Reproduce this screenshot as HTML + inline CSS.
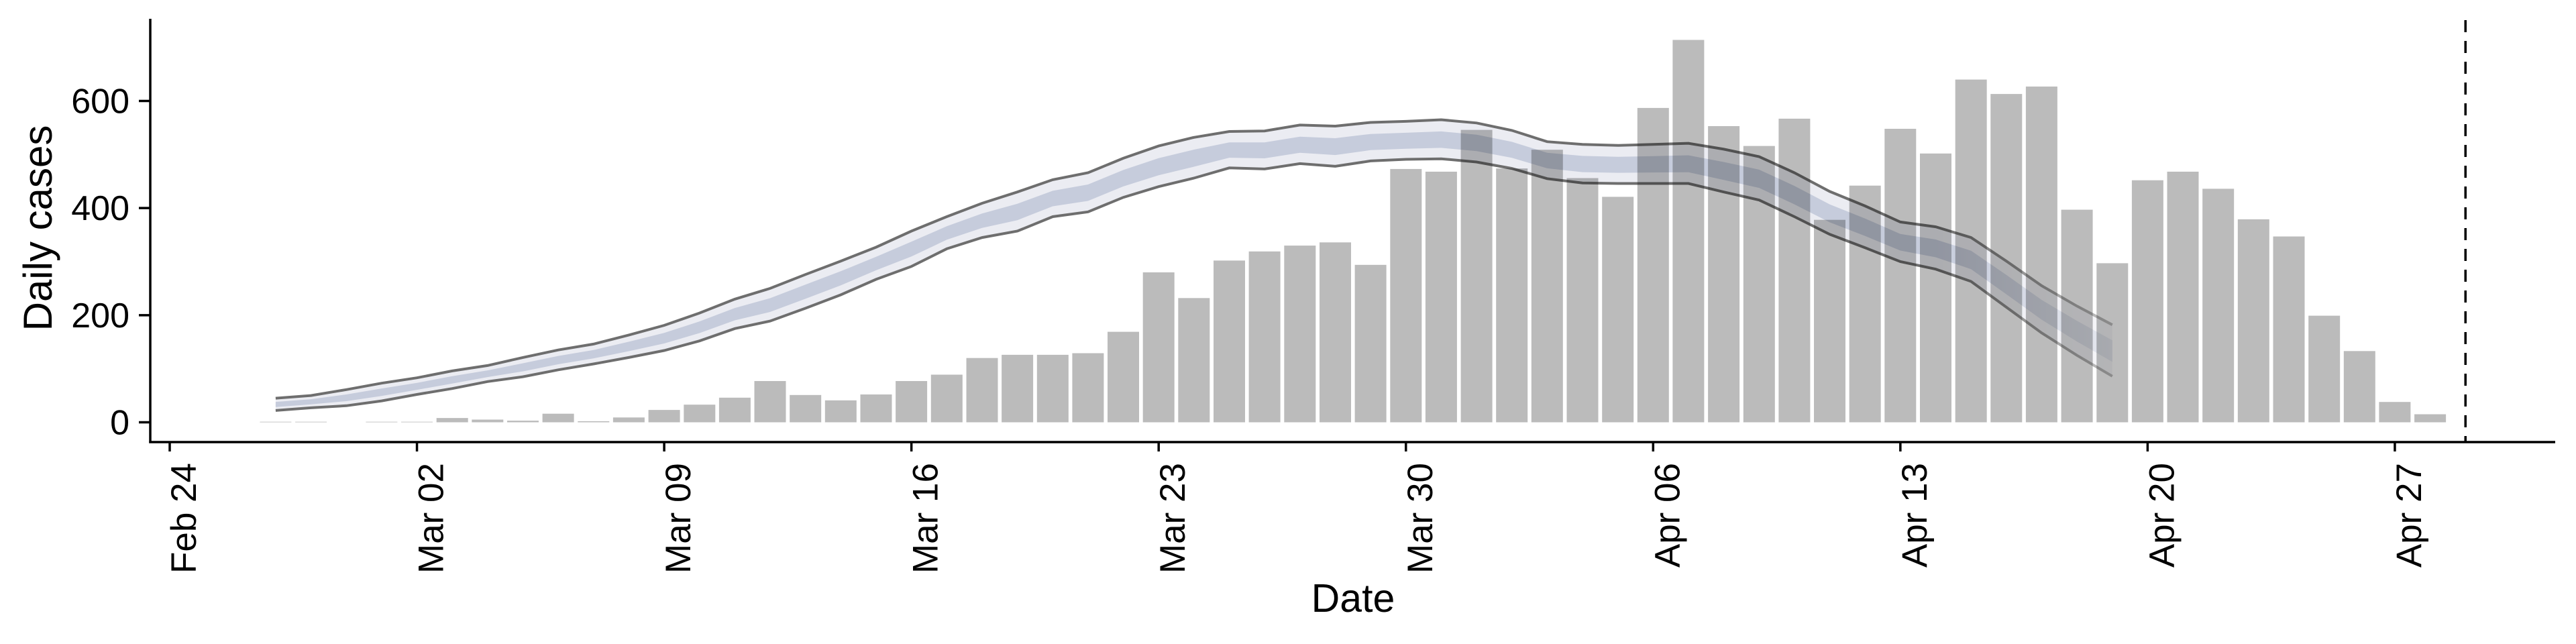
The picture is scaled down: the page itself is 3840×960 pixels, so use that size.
<!DOCTYPE html>
<html><head><meta charset="utf-8"><style>
html,body{margin:0;padding:0;background:#fff;}
svg{display:block;}
text{font-family:"Liberation Sans",Arial,sans-serif;fill:#000;}
</style></head><body>
<svg id="chart" width="3840" height="960" viewBox="0 0 3840 960" xmlns="http://www.w3.org/2000/svg">
<defs>
<linearGradient id="fadeGrad" gradientUnits="userSpaceOnUse" x1="2885" y1="0" x2="3150" y2="0">
<stop offset="0" stop-color="#fff" stop-opacity="1"/>
<stop offset="1" stop-color="#fff" stop-opacity="0.45"/>
</linearGradient>
<mask id="fadeMask" maskUnits="userSpaceOnUse" x="0" y="0" width="3840" height="960">
<rect x="0" y="0" width="3840" height="960" fill="url(#fadeGrad)"/>
</mask>
</defs>
<g id="bars"></g>
<g id="ribbon" style="mix-blend-mode:multiply" mask="url(#fadeMask)"></g>
<g id="axes"></g>
</svg>
<script>
// Day index 0 = Feb 24 (2020)
const barStartDay = 3;
const caseValues = [1,1,0,1,1,8,5,3,16,2,9,23,33,46,77,51,41,52,77,89,120,126,126,129,169,280,232,302,319,330,336,294,473,468,546,474,509,456,421,587,714,553,516,567,378,442,548,502,640,613,627,397,297,452,468,436,379,347,199,133,38,15];
const ribbonStartDay = 3;
const ribbonUpper = [45,50,61,73,83,96,106,121,135,146,163,181,204,230,250,276,301,327,357,384,409,430,453,466,493,516,532,543,544,555,553,560,562,565,559,545,524,519,517,519,521,510,496,466,431,404,374,365,345,301,255,217,182];
const ribbonLower = [22,27,31,40,52,63,76,85,98,109,121,134,152,175,189,213,238,267,291,324,345,357,384,393,420,440,456,475,473,483,478,488,491,492,486,474,455,447,446,446,446,430,415,384,351,326,300,286,263,215,167,125,86];
const yTicks = [0,200,400,600];
const xTickDays = [0,7,14,21,28,35,42,49,56,63];
const xTickLabels = ["Feb 24","Mar 02","Mar 09","Mar 16","Mar 23","Mar 30","Apr 06","Apr 13","Apr 20","Apr 27"];
const cutoffDay = 65;

const NS = "http://www.w3.org/2000/svg";
function xs(d){ return 253 + 52.65*d; }
function ys(v){ return 629.5 - 0.7983*v; }
function mk(tag, attrs, parent){
  const e = document.createElementNS(NS, tag);
  for (const k in attrs) e.setAttribute(k, attrs[k]);
  parent.appendChild(e);
  return e;
}
const barsG = document.getElementById('bars');
caseValues.forEach((v,i)=>{
  const d = barStartDay + i;
  const r = mk('rect', {x:(xs(d)-23.5).toFixed(1), y:ys(v).toFixed(1), width:47, height:Math.max(0,ys(0)-ys(v)).toFixed(1), fill:'#bbbbbb'}, barsG);
  
  
});

const rib = document.getElementById('ribbon');
function polyBand(top, bot){
  let p = [];
  top.forEach((v,i)=>p.push(xs(ribbonStartDay+i).toFixed(1)+','+ys(v).toFixed(1)));
  for (let i=bot.length-1;i>=0;i--) p.push(xs(ribbonStartDay+i).toFixed(1)+','+ys(bot[i]).toFixed(1));
  return p.join(' ');
}
const innerUp = ribbonUpper.map((u,i)=>u - 0.3*(u-ribbonLower[i]));
const innerLo = ribbonUpper.map((u,i)=>u - 0.72*(u-ribbonLower[i]));
const outer = mk('polygon', {points:polyBand(ribbonUpper, ribbonLower), fill:'#ebecf2'}, rib);


const inner = mk('polygon', {points:polyBand(innerUp, innerLo), fill:'#c6ccdc'}, rib);


function line(arr){ return arr.map((v,i)=>xs(ribbonStartDay+i).toFixed(1)+','+ys(v).toFixed(1)).join(' '); }
const lu = mk('polyline', {points:line(ribbonUpper), fill:'none', stroke:'#6e6e6e', 'stroke-width':4}, rib);


const ll = mk('polyline', {points:line(ribbonLower), fill:'none', stroke:'#6e6e6e', 'stroke-width':4}, rib);



const ax = document.getElementById('axes');
const yAxis = mk('line', {x1:224, y1:28, x2:224, y2:660.5, stroke:'#000', 'stroke-width':3.5}, ax);


const xAxis = mk('line', {x1:222.3, y1:659, x2:3809, y2:659, stroke:'#000', 'stroke-width':3.5}, ax);


yTicks.forEach(v=>{
  const t = mk('line', {x1:207, y1:ys(v), x2:224, y2:ys(v), stroke:'#000', 'stroke-width':3.5}, ax);
  
  
  const l = mk('text', {x:193, y:ys(v)+18, 'text-anchor':'end', 'font-size':52}, ax);
  l.textContent = v;
  
  
});
xTickDays.forEach((d,i)=>{
  const t = mk('line', {x1:xs(d), y1:659, x2:xs(d), y2:673, stroke:'#000', 'stroke-width':3.5}, ax);
  
  
  const bx = xs(d)+39, by = 690;
  const l = mk('text', {x:bx, y:by, 'text-anchor':'end', 'font-size':53, transform:'rotate(-90 '+bx+' '+by+')'}, ax);
  l.textContent = xTickLabels[i];
  
  
});
const cut = mk('line', {x1:xs(cutoffDay), y1:30, x2:xs(cutoffDay), y2:659, stroke:'#000', 'stroke-width':3.5, 'stroke-dasharray':'18,13'}, ax);


const yt = mk('text', {x:77, y:340, 'text-anchor':'middle', 'font-size':60, transform:'rotate(-90 77 340)'}, ax);
yt.textContent = 'Daily cases';


const xt = mk('text', {x:2017, y:912, 'text-anchor':'middle', 'font-size':59}, ax);
xt.textContent = 'Date';


</script>
</body></html>
